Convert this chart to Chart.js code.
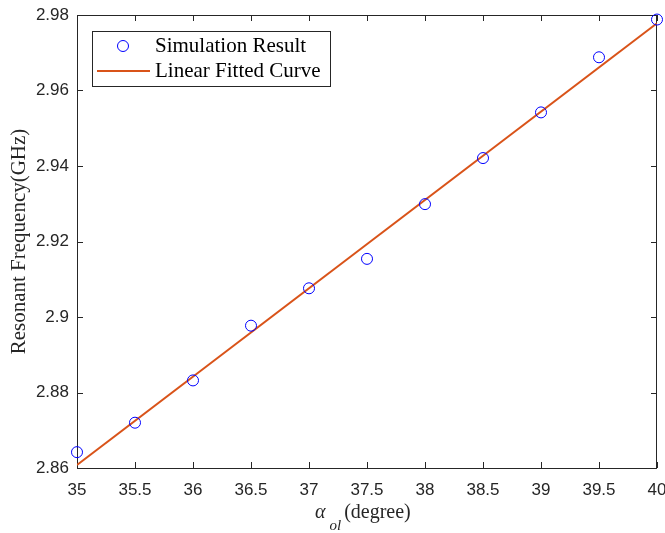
<!DOCTYPE html>
<html>
<head>
<meta charset="utf-8">
<script src="https://cdn.jsdelivr.net/npm/chart.js@4"></script>
<style>
  html, body { margin: 0; padding: 0; background: #fff; }
  #wrap { width: 665px; height: 533px; position: relative; }
</style>
</head>
<body>
<div id="wrap"><canvas id="chartFrecuencia" width="665" height="533"></canvas></div>
<script>
// datos
const angulos = [35, 35.5, 36, 36.5, 37, 37.5, 38, 38.5, 39, 39.5, 40];
const frecSimulada = [2.8642, 2.8720, 2.8832, 2.8977, 2.9076, 2.9154, 2.9299, 2.9421, 2.9542, 2.9688, 2.9788];
const angulosAjuste = [35, 40];
const frecAjuste = [2.8608, 2.9778];
const ticksX = ['35', '35.5', '36', '36.5', '37', '37.5', '38', '38.5', '39', '39.5', '40'];
const ticksY = ['2.86', '2.88', '2.9', '2.92', '2.94', '2.96', '2.98'];

const colorEje = '#262626';
const serif = '"Liberation Serif", "Times New Roman", serif';
const sans = '"Liberation Sans", Arial, sans-serif';

// marco con ticks hacia adentro (estilo matlab)
const marcoPlugin = {
    id: 'marco',
    beforeDatasetsDraw(chart) {
        const { ctx, chartArea: a, scales } = chart;
        ctx.save();
        ctx.strokeStyle = colorEje;
        ctx.lineWidth = 1;
        ctx.strokeRect(Math.round(a.left) + 0.5, Math.round(a.top) + 0.5,
            Math.round(a.right - a.left) - 1, Math.round(a.bottom - a.top));
        const largo = 6;
        ctx.beginPath();
        scales.x.ticks.forEach(t => {
            const px = Math.round(scales.x.getPixelForValue(t.value)) + 0.5;
            ctx.moveTo(px, a.bottom); ctx.lineTo(px, a.bottom - largo);
            ctx.moveTo(px, a.top); ctx.lineTo(px, a.top + largo);
        });
        scales.y.ticks.forEach(t => {
            const py = Math.round(scales.y.getPixelForValue(t.value)) + 0.5;
            ctx.moveTo(a.left, py); ctx.lineTo(a.left + largo, py);
            ctx.moveTo(a.right, py); ctx.lineTo(a.right - largo, py);
        });
        ctx.stroke();
        ctx.restore();
    },
    afterDraw(chart) {
        const { ctx } = chart;
        ctx.save();
        // leyenda
        const lx = 92, ly = 31, lw = 238, lh = 55;
        ctx.fillStyle = '#fff';
        ctx.fillRect(lx, ly, lw, lh);
        ctx.strokeStyle = colorEje;
        ctx.lineWidth = 1;
        ctx.strokeRect(lx + 0.5, ly + 0.5, lw, lh);
        const dsSim = chart.data.datasets[0];
        const dsFit = chart.data.datasets[1];
        ctx.strokeStyle = dsSim.borderColor;
        ctx.beginPath();
        ctx.arc(123, 46, dsSim.pointRadius, 0, Math.PI * 2);
        ctx.stroke();
        ctx.strokeStyle = dsFit.borderColor;
        ctx.lineWidth = dsFit.borderWidth;
        ctx.beginPath();
        ctx.moveTo(97, 71); ctx.lineTo(150, 71);
        ctx.stroke();
        ctx.fillStyle = '#000';
        ctx.font = '21px ' + serif;
        ctx.textBaseline = 'middle';
        ctx.fillText(dsSim.label, 155, 46);
        ctx.fillText(dsFit.label, 155, 71);

        // titulo eje x: alpha_ol (degree)
        ctx.fillStyle = colorEje;
        ctx.textBaseline = 'alphabetic';
        let x = 315;
        ctx.font = 'italic 20px ' + serif;
        ctx.fillText('\u03B1', x, 518);
        x += ctx.measureText('\u03B1').width + 4;
        ctx.font = 'italic 15px ' + serif;
        ctx.fillText('ol', x, 530);
        x += ctx.measureText('ol').width + 3;
        ctx.font = '20px ' + serif;
        ctx.fillText('(degree)', x, 518);
        ctx.restore();
    }
};

new Chart(document.getElementById('chartFrecuencia'), {
    type: 'scatter',
    data: {
        datasets: [{
            label: 'Simulation Result',
            data: angulos.map((a, i) => ({ x: a, y: frecSimulada[i] })),
            borderColor: '#0000ff',
            backgroundColor: 'rgba(0,0,0,0)',
            pointRadius: 5.5,
            pointBorderWidth: 1,
            pointHoverRadius: 5.5,
            clip: false,
            order: 1
        }, {
            label: 'Linear Fitted Curve',
            data: angulosAjuste.map((a, i) => ({ x: a, y: frecAjuste[i] })),
            showLine: true,
            borderColor: '#D95319',
            backgroundColor: '#D95319',
            borderWidth: 2,
            pointRadius: 0,
            order: 2
        }]
    },
    options: {
        responsive: false,
        animation: false,
        layout: { padding: { top: 15, right: 8, left: 0, bottom: 0 } },
        plugins: { legend: { display: false }, tooltip: { enabled: false } },
        scales: {
            x: {
                type: 'linear',
                min: 35,
                max: 40,
                afterFit: s => { s.height = 65; s.paddingLeft = 0; s.paddingRight = 0; },
                afterBuildTicks: s => { s.ticks = ticksX.map(v => ({ value: parseFloat(v) })); },
                grid: { display: false, drawTicks: false },
                border: { display: false },
                ticks: {
                    color: colorEje,
                    font: { family: sans, size: 17 },
                    padding: 12,
                    maxRotation: 0,
                    callback: (v, i) => ticksX[i]
                },
                title: { display: false }
            },
            y: {
                type: 'linear',
                min: 2.86,
                max: 2.98,
                afterFit: s => { s.width = 77; s.paddingTop = 0; s.paddingBottom = 0; },
                afterBuildTicks: s => { s.ticks = ticksY.map(v => ({ value: parseFloat(v) })); },
                grid: { display: false, drawTicks: false },
                border: { display: false },
                ticks: {
                    color: colorEje,
                    font: { family: sans, size: 17 },
                    padding: 8,
                    callback: (v, i) => ticksY[i]
                },
                title: {
                    display: true,
                    text: 'Resonant Frequency(GHz)',
                    color: colorEje,
                    font: { family: serif, size: 21 },
                    padding: { top: 7, bottom: 0 }
                }
            }
        }
    },
    plugins: [marcoPlugin]
});
</script>
</body>
</html>
